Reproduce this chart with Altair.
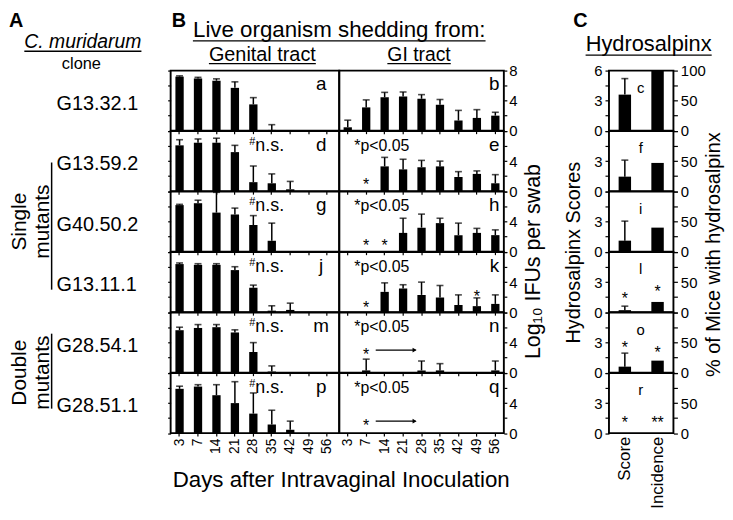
import altair as alt
import pandas as pd

FONT = "Liberation Sans"

# ---------------- data ----------------
days = ["3", "7", "14", "21", "28", "35", "42", "49", "56"]
clones = ["G13.32.1", "G13.59.2", "G40.50.2", "G13.11.1", "G28.54.1", "G28.51.1"]
gen_letters = ["a", "d", "g", "j", "m", "p"]
gi_letters = ["b", "e", "h", "k", "n", "q"]
c_letters = ["c", "f", "i", "l", "o", "r"]
metrics = ["Score", "Incidence"]

# Genital tract shedding, log10 IFUs (mean and top of error bar)
gen_mean = [
    [7.2, 6.95, 6.65, 5.7, 3.5, 0.1, 0, 0, 0],
    [6.1, 6.45, 6.45, 5.2, 1.2, 1.05, 0.25, 0, 0],
    [6.2, 6.45, 5.2, 4.95, 3.55, 1.45, 0, 0, 0],
    [6.4, 6.3, 6.3, 5.6, 3.25, 0.2, 0.3, 0, 0],
    [5.65, 5.95, 6.05, 5.35, 2.75, 0.15, 0, 0, 0],
    [5.9, 6.2, 5.05, 4.0, 2.6, 1.15, 0.45, 0, 0],
]
gen_err = [
    [7.3, 7.1, 6.9, 6.5, 4.4, 0.8, 0, 0, 0],
    [6.85, 6.95, 7.05, 6.1, 3.35, 2.3, 1.3, 0, 0],
    [6.3, 6.85, 7.9, 5.8, 4.8, 3.8, 0, 0, 0],
    [6.55, 6.45, 6.45, 6.05, 3.6, 0.85, 1.2, 0, 0],
    [6.05, 6.4, 6.4, 5.7, 4.0, 0.9, 0, 0, 0],
    [6.25, 6.45, 6.45, 6.85, 5.35, 3.05, 1.6, 0, 0],
]
# GI tract shedding
gi_mean = [
    [0.45, 3.1, 4.45, 4.55, 4.25, 3.45, 1.35, 1.7, 2.0],
    [0, 0, 3.3, 2.9, 3.2, 3.3, 1.9, 2.3, 1.05],
    [0, 0, 0, 2.5, 3.2, 3.8, 2.2, 2.5, 2.2],
    [0, 0, 2.7, 3.15, 2.3, 1.95, 0.95, 0.8, 1.1],
    [0, 0.3, 0, 0, 0.3, 0.3, 0, 0, 0.3],
    [0, 0, 0, 0, 0, 0, 0, 0, 0],
]
gi_err = [
    [1.4, 4.1, 5.1, 5.15, 4.8, 4.15, 2.7, 2.8, 2.45],
    [0, 0, 4.5, 4.25, 4.1, 4.0, 2.6, 2.7, 2.2],
    [0, 0, 0, 4.45, 5.0, 4.45, 3.8, 3.1, 2.9],
    [0, 0, 3.9, 3.65, 4.0, 3.55, 2.3, 1.9, 2.3],
    [0, 1.8, 0, 0, 1.55, 1.2, 0, 0, 1.55],
    [0, 0, 0, 0, 0, 0, 0, 0, 0],
]
gen_note = ["", "n.s.", "n.s.", "n.s.", "n.s.", "n.s."]
gi_note = ["", "*p<0.05", "*p<0.05", "*p<0.05", "*p<0.05", "*p<0.05"]
gi_star_row = [1, 2, 2, 3, 3, 4, 5]
gi_star_day = ["7", "7", "14", "7", "49", "7", "7"]
gi_star_y = [1.5, 1.35, 1.35, 1.2, 2.65, 3.0, 1.6]
arrow_row = [4, 5]
arrow_y = [3.0, 1.6]

# Hydrosalpinx
score_mean = [3.6, 1.45, 1.1, 0.2, 0.6, 0.0]
score_err = [5.2, 3.1, 3.05, 0.6, 1.95, 0.0]
incidence = [100, 47, 40, 17, 20, 0]
c_star_row = [3, 3, 4, 4, 5, 5]
c_star_metric = ["Score", "Incidence", "Score", "Incidence", "Score", "Incidence"]
c_star_y = [1.8, 2.5, 2.95, 2.45, 1.5, 1.5]
c_star_text = ["*", "*", "*", "*", "*", "**"]

# ---------------- layout ----------------
ROW_H = 60.6
HEAD_H = 60
A_W, GEN_W, GI_W, GAP_W, C_W = 163, 170, 166, 106, 65
NOVIEW = alt.ViewBackground(stroke="transparent")

AW = {' ': 278, '#': 556, '%': 889, '*': 389, '.': 278, ':': 278, '<': 584,
      'A': 667, 'B': 667, 'C': 722, 'D': 722, 'G': 778, 'H': 722, 'I': 278,
      'L': 556, 'M': 833, 'S': 667, 'a': 556, 'b': 556, 'c': 500, 'd': 556,
      'e': 556, 'f': 278, 'g': 556, 'h': 556, 'i': 222, 'l': 222, 'm': 833,
      'n': 556, 'o': 556, 'p': 556, 'r': 333, 's': 500, 't': 278, 'u': 556,
      'v': 500, 'w': 722, 'x': 500, 'y': 500}


def tw(s, fs):
    return sum(AW.get(ch, 556) for ch in s) * fs / 1000.0


one = pd.DataFrame({"k": [0]})


def label(text, x, y, fs, align="center", weight="normal", style="normal",
          angle=0, baseline="alphabetic"):
    return alt.Chart(pd.DataFrame({"t": [text]})).mark_text(
        font=FONT, fontSize=fs, fontWeight=weight, fontStyle=style,
        align=align, baseline=baseline, angle=angle, color="black"
    ).encode(text="t:N", x=alt.value(x), y=alt.value(y))


def underline(cx, y, text, fs):
    w = tw(text, fs)
    return alt.Chart(one).mark_rule(color="black", strokeWidth=1.3).encode(
        x=alt.value(cx - w / 2), x2=alt.value(cx + w / 2), y=alt.value(y))


def vline(x, y1, y2):
    return alt.Chart(one).mark_rule(color="black", strokeWidth=1.5).encode(
        x=alt.value(x), y=alt.value(y1), y2=alt.value(y2))


def spacer(h):
    return alt.Chart(one).mark_point(opacity=0, size=1).encode(
        x=alt.value(50), y=alt.value(h / 2)
    ).properties(width=GAP_W, height=h, view=NOVIEW)


# headers
a_head = alt.layer(
    label("A", 0, 16, 20, align="left", weight="bold"),
    label("C. muridarum", 74.5, 37, 19.5, style="italic"),
    underline(74.5, 40.5, "C. muridarum", 19.5),
    label("clone", 73, 58.5, 16.5),
).properties(width=A_W, height=HEAD_H, view=NOVIEW)

gen_head = alt.layer(
    label("B", 1, 16, 20, align="left", weight="bold"),
    label("Live organism shedding from:", GEN_W, 26.5, 22.5),
    underline(GEN_W, 30, "Live organism shedding from:", 22.5),
    label("Genital tract", 92.5, 50, 20),
    underline(92.5, 53, "Genital tract", 20),
).properties(width=GEN_W, height=HEAD_H, view=NOVIEW)

gi_head = alt.layer(
    label("GI tract", 80.5, 50, 19.5),
    underline(80.5, 53, "GI tract", 19.5),
).properties(width=GI_W, height=HEAD_H, view=NOVIEW)

c_head = alt.layer(
    label("C", -36, 16, 20, align="left", weight="bold"),
    label("Hydrosalpinx", 40, 40, 22),
    underline(40, 44.5, "Hydrosalpinx", 22),
).properties(width=C_W, height=HEAD_H, view=NOVIEW)


def a_row(r):
    layers = [label(clones[r], 48, ROW_H / 2 + 3, 20, align="left", baseline="middle")]
    if r == 2:
        layers += [
            label("Single", 17, ROW_H / 2, 21, angle=270),
            label("mutants", 40, ROW_H / 2, 21, angle=270),
            vline(43, -ROW_H / 2 + 1, 1.5 * ROW_H + 8),
        ]
    if r == 4:
        layers += [
            label("Double", 17, ROW_H, 21, angle=270),
            label("mutants", 40, ROW_H, 21, angle=270),
            vline(43, ROW_H / 2 - 9, 1.5 * ROW_H + 6),
        ]
    return alt.layer(*layers).properties(width=A_W, height=ROW_H, view=NOVIEW)


def xaxis_b(r):
    return alt.Axis(title=None, labels=(r == 5), labelAngle=270, labelFontSize=14,
                    labelPadding=2, tickSize=3, tickWidth=1.2, domain=False, grid=False)


def bar_layers(df, X, Yv, Ye):
    bars = alt.Chart(df).transform_filter("datum.val > 0").mark_bar(color="black").encode(x=X, y=Yv)
    eb = alt.Chart(df).transform_filter("datum.err > datum.val")
    rule = eb.mark_rule(color="black", strokeWidth=1.5).encode(x=X, y=Yv, y2=alt.Y2("err"))
    cap = eb.mark_tick(color="black", orient="horizontal", size=7, thickness=1.6).encode(x=X, y=Ye)
    return [bars, rule, cap]


def gen_row(r):
    df = pd.DataFrame({"day": days, "val": gen_mean[r], "err": gen_err[r]})
    X = alt.X("day:N", sort=days,
              scale=alt.Scale(domain=days, paddingInner=0.55, paddingOuter=0.345, align=0.375),
              axis=xaxis_b(r))
    ysc = alt.Scale(domain=[0, 8])
    yax = alt.Axis(orient="left", values=[0, 2, 4, 6, 8], labels=False, tickSize=3,
                   tickWidth=1.2, title=None, domain=False, grid=False)
    Yv = alt.Y("val:Q", scale=ysc, axis=yax)
    Ye = alt.Y("err:Q", scale=ysc, axis=yax)
    layers = bar_layers(df, X, Yv, Ye)
    ldf = pd.DataFrame({"day": ["56"], "val": [5.4], "t": [gen_letters[r]]})
    layers.append(alt.Chart(ldf).mark_text(font=FONT, fontSize=19, dx=-6, baseline="alphabetic",
                                           color="black").encode(x=X, y=Yv, text="t:N"))
    if gen_note[r]:
        ndf = pd.DataFrame({"day": ["28"], "val": [5.4], "t": [gen_note[r]], "h": ["#"]})
        layers.append(alt.Chart(ndf).mark_text(font=FONT, fontSize=18, dx=2, align="left",
                                               baseline="alphabetic", color="black").encode(x=X, y=Yv, text="t:N"))
        layers.append(alt.Chart(ndf).mark_text(font=FONT, fontSize=11, dx=2, dy=-6, align="right",
                                               baseline="alphabetic", color="black").encode(x=X, y=Yv, text="h:N"))
    if r == 5:
        layers.append(label("Days after Intravaginal Inoculation", GEN_W + 2, 115, 22.5))
    return alt.layer(*layers).properties(width=GEN_W, height=ROW_H)


def gi_row(r):
    df = pd.DataFrame({"day": days, "val": gi_mean[r], "err": gi_err[r]})
    X = alt.X("day:N", sort=days,
              scale=alt.Scale(domain=days, paddingInner=0.55, paddingOuter=0.237),
              axis=xaxis_b(r))
    ysc = alt.Scale(domain=[0, 8])
    expr = ("datum.value % 4 == 0 ? datum.label : ''" if r == 0
            else "(datum.value == 0 || datum.value == 4) ? datum.label : ''")
    yax = alt.Axis(orient="right", values=[0, 2, 4, 6, 8], labelExpr=expr, labelFontSize=15,
                   labelPadding=2, tickSize=3, tickWidth=1.2, title=None, domain=False,
                   grid=False, labelOverlap=False, labelFlush=False)
    Yv = alt.Y("val:Q", scale=ysc, axis=yax)
    Ye = alt.Y("err:Q", scale=ysc, axis=yax)
    layers = bar_layers(df, X, Yv, Ye)
    ldf = pd.DataFrame({"day": ["56"], "val": [5.4], "t": [gi_letters[r]]})
    layers.append(alt.Chart(ldf).mark_text(font=FONT, fontSize=19, dx=-1, baseline="alphabetic",
                                           color="black").encode(x=X, y=Yv, text="t:N"))
    if gi_note[r]:
        ndf = pd.DataFrame({"day": ["7"], "val": [5.4], "t": [gi_note[r]]})
        layers.append(alt.Chart(ndf).mark_text(font=FONT, fontSize=16, dx=-12, align="left",
                                               baseline="alphabetic", color="black").encode(x=X, y=Yv, text="t:N"))
    sd = [(d, y) for rr, d, y in zip(gi_star_row, gi_star_day, gi_star_y) if rr == r]
    if sd:
        sdf = pd.DataFrame({"day": [d for d, _ in sd], "val": [y for _, y in sd], "t": ["*"] * len(sd)})
        layers.append(alt.Chart(sdf).mark_text(font=FONT, fontSize=16, dy=5, baseline="middle",
                                               color="black").encode(x=X, y=Yv, text="t:N"))
    if r in arrow_row:
        ay = arrow_y[arrow_row.index(r)]
        adf = pd.DataFrame({"day": ["14"], "day2": ["28"], "val": [ay]})
        layers.append(alt.Chart(adf).mark_rule(color="black", strokeWidth=1.2, xOffset=-9,
                                               x2Offset=-6).encode(x=X, x2=alt.X2("day2"), y=Yv))
        hdf = pd.DataFrame({"day": ["28"], "val": [ay]})
        layers.append(alt.Chart(hdf).mark_point(shape="triangle-right", filled=True, size=22,
                                                color="black", opacity=1, xOffset=-7).encode(x=X, y=Yv))
    if r == 2:
        layers.append(label("Log\u2081\u2080 IFUs per swab", 202, ROW_H + 10, 21.5, angle=270))
    return alt.layer(*layers).properties(width=GI_W, height=ROW_H)


def c_row(r):
    last = r == 5
    X = alt.X("metric:N", sort=metrics,
              scale=alt.Scale(domain=metrics, paddingInner=0.62, paddingOuter=0.295),
              axis=alt.Axis(title=None, labels=last, ticks=False, labelAngle=270,
                            labelFontSize=17, labelPadding=3, domain=False, grid=False))
    s_expr = ("datum.value % 3 == 0 ? datum.label : ''" if r == 0
              else "(datum.value == 0 || datum.value == 3) ? datum.label : ''")
    i_expr = ("datum.value % 50 == 0 ? datum.label : ''" if r == 0
              else "(datum.value == 0 || datum.value == 50) ? datum.label : ''")
    ssc = alt.Scale(domain=[0, 6])
    sax = alt.Axis(orient="left", values=[0, 1.5, 3, 4.5, 6], labelExpr=s_expr, labelFontSize=15,
                   labelPadding=3, tickSize=4, tickWidth=1.2, title=None, domain=False, grid=False,
                   labelOverlap=False, labelFlush=False)
    isc = alt.Scale(domain=[0, 100])
    iax = alt.Axis(orient="right", values=[0, 25, 50, 75, 100], labelExpr=i_expr, labelFontSize=15,
                   labelPadding=3, tickSize=4, tickWidth=1.2, title=None, domain=False, grid=False,
                   labelOverlap=False, labelFlush=False)
    sdf = pd.DataFrame({"metric": ["Score"], "val": [score_mean[r]], "err": [score_err[r]]})
    Yv = alt.Y("val:Q", scale=ssc, axis=sax)
    Ye = alt.Y("err:Q", scale=ssc, axis=sax)
    s_layers = bar_layers(sdf, X, Yv, Ye)
    ldf = pd.DataFrame({"metric": ["Score"], "val": [3.8], "t": [c_letters[r]]})
    s_layers.append(alt.Chart(ldf).mark_text(font=FONT, fontSize=15, dx=16, baseline="alphabetic",
                                             color="black").encode(x=X, y=Yv, text="t:N"))
    st = [(m, y, t) for rr, m, y, t in zip(c_star_row, c_star_metric, c_star_y, c_star_text) if rr == r]
    if st:
        stdf = pd.DataFrame({"metric": [a for a, _, _ in st], "val": [b for _, b, _ in st],
                             "t": [c for _, _, c in st]})
        s_layers.append(alt.Chart(stdf).mark_text(font=FONT, fontSize=16, dy=5, baseline="middle",
                                                  color="black").encode(x=X, y=Yv, text="t:N"))
    if r == 2:
        s_layers.append(label("Hydrosalpinx Scores", -29, ROW_H + 1, 20, angle=270))
        s_layers.append(label("% of Mice with hydrosalpinx", 112, ROW_H + 3, 20, angle=270))
    idf = pd.DataFrame({"metric": ["Incidence"], "pct": [incidence[r]]})
    ibar = alt.Chart(idf).transform_filter("datum.pct > 0").mark_bar(color="black").encode(
        x=X, y=alt.Y("pct:Q", scale=isc, axis=iax))
    return alt.layer(alt.layer(*s_layers), ibar).resolve_scale(y="independent").properties(
        width=C_W, height=ROW_H)


cells = [a_head, gen_head, gi_head, spacer(HEAD_H), c_head]
for r in range(6):
    cells += [a_row(r), gen_row(r), gi_row(r), spacer(ROW_H), c_row(r)]

chart = alt.concat(*cells, columns=5, spacing=0, bounds="flush", padding=0,
                   background="white").configure_view(
    stroke="black", strokeWidth=1.9
).configure_axis(labelFont=FONT, labelColor="black", tickColor="black", titleFont=FONT)

chart.save("out.html", embed_options={"renderer": "svg", "actions": False})
